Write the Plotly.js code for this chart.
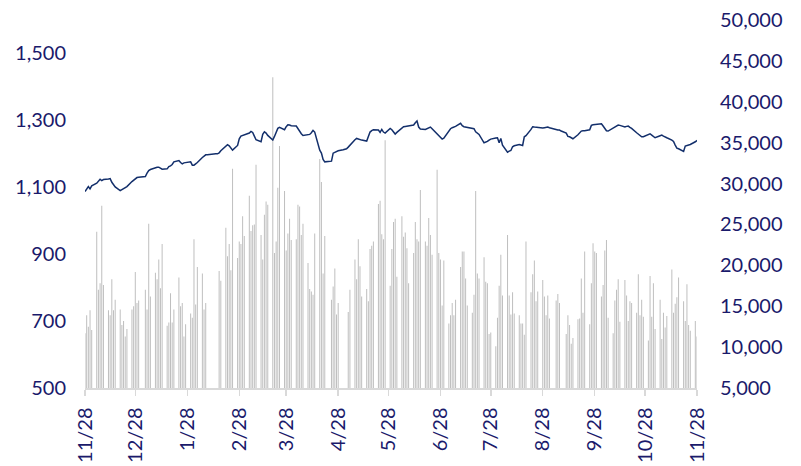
<!DOCTYPE html>
<html>
<head>
<meta charset="utf-8">
<script src="https://cdn.plot.ly/plotly-3.0.1.min.js"></script>
<style>html,body{margin:0;padding:0;background:#fff;}#chart{width:801px;height:466px;}</style>
</head>
<body>
<div id="chart"></div>
<script>
// Trading days: every weekday from 2022-11-28 to 2023-11-28 (x categories)
const startDay = '2022-11-28';
const endDay = '2023-11-28';

// Bar series (right axis), one value per weekday, week by week (Mon..Fri); null = no bar
const barValues = [
  11700,13900,12500,14500,12100,
  24100,17000,17800,27300,17600,
  14500,13900,18300,14500,15800,
  14600,12700,13200,11300,12200,
  14600,15000,19200,15400,15700,
  null,17000,14600,25100,16200,
  19100,18300,20700,17200,22600,
  12600,13000,16600,13000,14600,
  18500,15000,15400,11300,12800,
  14100,13600,23200,15200,19800,
  19000,14600,15400,null,null,
  null,null,null,19300,18100,
  24600,21100,22600,19400,31800,
  20900,22900,22600,26000,23600,
  28500,24200,24900,25000,32300,
  23700,20700,26200,27800,27400,
  43000,21500,22900,29500,34600,
  29100,21800,23900,25700,23100,
  23200,27400,27200,23700,25100,
  20300,17100,16800,16400,23900,
  33000,30200,19000,23600,null,
  15800,17400,19600,14000,15400,
  null,null,null,14300,17000,
  20700,18300,23200,19900,16200,
  17100,15600,22000,22400,22900,
  27500,27900,23800,23200,35300,
  17500,22000,25300,25700,18600,
  26000,23500,24000,22100,17800,
  21500,25300,23200,22900,29200,
  22900,22400,25800,23700,21300,
  31700,21500,20700,15100,20600,
  12900,13900,15400,13900,15800,
  19800,21700,21700,18400,15100,
  14200,16400,29100,19000,18400,
  21000,18000,17800,11600,11800,
  10100,13600,17500,21300,16300,
  23700,16300,14000,16700,14100,
  13900,12900,12900,11500,22900,
  16700,18900,20600,15600,16800,
  18200,16200,13900,16300,13500,
  null,15700,16500,15400,null,
  11600,13900,12700,10400,11100,
  13400,13500,18400,14200,21700,
  12800,17800,22700,21700,21500,
  16200,17600,21800,23100,13600,
  11700,15700,17000,18300,13100,
  18200,16300,13200,15600,15400,
  14200,18900,13900,15800,13700,
  10800,18700,13700,17800,12200,
  15800,11000,14200,12400,13800,
  19500,14200,15300,16100,18500,
  15600,13200,17700,12700,12000,
  13200,11300
];

// Line series (left axis), one value per weekday
const lineValues = [
  1087,1097,1102,1095,1104,
  1112,1120,1124,1120,1123,
  1125,1126,1115,1106,1101,
  1090,1093,1097,1099,1102,
  1117,1121,1125,1129,1130,
  1131,1132,1142,1150,1153,
  1159,1160,1160,1157,1154,
  1155,1162,1164,1168,1176,
  1180,1174,1170,1173,1174,
  1176,1166,1166,1170,1174,
  1189,1194,1197,1197,1198,
  1199,1200,1200,1203,1209,
  1224,1227,1224,1217,1211,
  1225,1245,1253,1255,1257,
  1262,1267,1264,1253,1242,
  1236,1258,1266,1262,1255,
  1241,1252,1265,1276,1279,
  1272,1281,1287,1286,1284,
  1283,1274,1266,1260,1255,
  1256,1258,1263,1270,1265,
  1211,1202,1183,1176,1177,
  1178,1202,1205,1208,1209,
  1212,1214,1215,1220,1226,
  1242,1246,1244,1242,1241,
  1238,1252,1265,1269,1272,
  1271,1264,1273,1265,1262,
  1276,1272,1264,1259,1264,
  1278,1281,1282,1283,1284,
  1286,1293,1298,1280,1274,
  1273,1276,1278,1280,1275,
  1260,1257,1250,1244,1247,
  1269,1275,1278,1280,1282,
  1291,1284,1281,1280,1279,
  1277,1275,1266,1262,1258,
  1233,1234,1237,1241,1244,
  1247,1248,1233,1246,1226,
  1205,1208,1210,1221,1224,
  1228,1226,1225,1251,1254,
  1273,1281,1280,1279,1279,
  1277,1278,1279,1280,1278,
  1273,1271,1271,1271,1268,
  1262,1252,1251,1248,1245,
  1257,1264,1268,1269,1269,
  1272,1285,1287,1288,1289,
  1290,1283,1275,1269,1268,
  1277,1282,1285,1286,1285,
  1280,1282,1283,1279,1276,
  1263,1259,1255,1251,1251,
  1256,1260,1256,1251,1248,
  1254,1256,1253,1250,1248,
  1241,1237,1226,1217,1215,
  1207,1223,1224,1226,1228,
  1236,1240
];

// X tick labels (monthly)
const xTickDates = ['2022-11-28','2022-12-28','2023-01-28','2023-02-28','2023-03-28','2023-04-28','2023-05-28','2023-06-28','2023-07-28','2023-08-28','2023-09-28','2023-10-28','2023-11-28'];
const xTickText = ['11/28','12/28','1/28','2/28','3/28','4/28','5/28','6/28','7/28','8/28','9/28','10/28','11/28'];
const leftTicks = [500,700,900,1100,1300,1500];
const rightTicks = [5000,10000,15000,20000,25000,30000,35000,40000,45000,50000];

function weekdays(a, b) {
  const out = [];
  const d = new Date(a + 'T00:00:00Z');
  const e = new Date(b + 'T00:00:00Z');
  while (d <= e) {
    const w = d.getUTCDay();
    if (w !== 0 && w !== 6) out.push(d.toISOString().slice(0, 10));
    d.setUTCDate(d.getUTCDate() + 1);
  }
  return out;
}
const dates = weekdays(startDay, endDay);

const navy = '#1a1a6b';
const font = {family: 'Lato, "Open Sans", sans-serif', size: 20, color: navy};

const bars = {
  type: 'bar', x: dates, y: barValues, yaxis: 'y2',
  marker: {color: '#bfbfbf', line: {width: 0}},
  hoverinfo: 'skip', showlegend: false
};
const line = {
  type: 'scatter', mode: 'lines', x: dates, y: lineValues, yaxis: 'y',
  line: {color: '#132f6b', width: 1.5},
  hoverinfo: 'skip', showlegend: false
};

const layout = {
  width: 801, height: 466,
  margin: {l: 85, r: 104, t: 20, b: 78},
  paper_bgcolor: '#ffffff', plot_bgcolor: 'rgba(0,0,0,0)',
  showlegend: false, bargap: 0.4,
  font: font,
  xaxis: {
    type: 'date', range: [startDay, endDay],
    tickmode: 'array', tickvals: xTickDates, ticktext: xTickText,
    tickangle: -90, tickfont: font,
    ticks: 'outside', ticklen: 6, tickwidth: 1.5, tickcolor: '#d9d9d9',
    showline: true, linecolor: '#d9d9d9', linewidth: 1.5,
    showgrid: false, zeroline: false, ticklabelstandoff: 4
  },
  yaxis: {
    overlaying: 'y2', side: 'left', range: [500, 1600],
    tickmode: 'array', tickvals: leftTicks, ticktext: leftTicks.map(v => v.toLocaleString('en-US')),
    tickfont: font, showgrid: false, zeroline: false, showline: false, ticks: '',
    ticklabelstandoff: 18
  },
  yaxis2: {
    side: 'right', anchor: 'x', range: [5000, 50000],
    tickmode: 'array', tickvals: rightTicks, ticktext: rightTicks.map(v => v.toLocaleString('en-US')),
    tickfont: font, showgrid: false, zeroline: false, showline: false, ticks: '',
    ticklabelstandoff: 22
  }
};

Plotly.newPlot('chart', [bars, line], layout, {displayModeBar: false, staticPlot: true});
</script>
</body>
</html>
